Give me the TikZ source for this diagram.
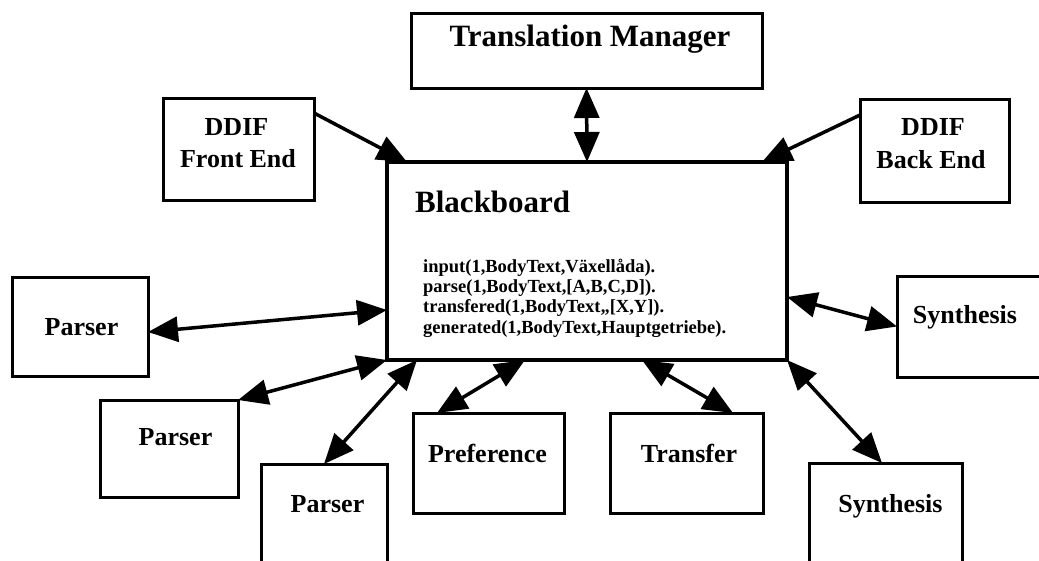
\documentclass[tikz,border=0pt]{standalone}
\usepackage{fontspec}
\setmainfont{Liberation Serif}
\usetikzlibrary{arrows.meta,calc}

\tikzset{
  >={Triangle[length=30pt,width=25pt]},
  box/.style={draw, line width=3pt, inner sep=0pt, outer sep=0pt},
  board/.style={draw, line width=4.5pt, inner sep=0pt, outer sep=0pt},
  conn/.style={line width=3.5pt},
  lbl/.style={anchor=base, inner sep=0pt, font=\fontsize{26}{30}\selectfont\bfseries},
  biglbl/.style={inner sep=0pt, font=\fontsize{31}{36}\selectfont\bfseries},
  fact/.style={anchor=base west, inner sep=0pt, font=\fontsize{18.5}{20}\selectfont\bfseries},
}

\begin{document}
\begin{tikzpicture}[x=1pt,y=-1pt]
\useasboundingbox (0,0) rectangle (1039,560);
\clip (0,0) rectangle (1039,560);
\fill[white] (0,0) rectangle (1039,560);

% central blackboard
\node[board, minimum width=400pt, minimum height=198pt] (bb) at (587,261) {};
\node[biglbl, anchor=base west] at (415,212) {Blackboard};
\foreach \txt/\yy in {{input(1,BodyText,Växellåda).}/272,
                      {parse(1,BodyText,[A,B,C,D]).}/292.3,
                      {transfered(1,BodyText,,[X,Y]).}/312.6,
                      {generated(1,BodyText,Hauptgetriebe).}/333}
  \node[fact] at (423,\yy) {\txt};

% knowledge sources around the blackboard
\node[box, minimum width=351pt, minimum height=75pt]  (tm)   at (586.5,50.5) {};
\node[biglbl, anchor=base] at (590,46) {Translation Manager};

\node[box, minimum width=151pt, minimum height=102pt] (fe)   at (238.5,149) {};
\node[lbl] at (236.5,135) {DDIF};
\node[lbl] at (238,167) {Front End};

\node[box, minimum width=149pt, minimum height=103pt] (be)   at (934.5,150.5) {};
\node[lbl] at (933,135) {DDIF};
\node[lbl] at (931,168) {Back End};

\node[box, minimum width=136pt, minimum height=99pt]  (p1)   at (80,326.5) {};
\node[lbl] at (81.5,335) {Parser};

\node[box, minimum width=138pt, minimum height=97pt]  (p2)   at (169,448.5) {};
\node[lbl] at (175.5,445) {Parser};

\node[box, minimum width=126pt, minimum height=111pt] (p3)   at (324,519.5) {};
\node[lbl] at (327.5,512) {Parser};

\node[box, minimum width=151pt, minimum height=100pt] (pref) at (488.5,463) {};
\node[lbl] at (487.5,462) {Preference};

\node[box, minimum width=153pt, minimum height=100pt] (tr)   at (686.5,463) {};
\node[lbl] at (689,462) {Transfer};

\node[box, minimum width=158pt, minimum height=101pt] (s1)   at (976,326.5) {};
\node[lbl] at (965,323) {Synthesis};

\node[box, minimum width=153pt, minimum height=112pt] (s2)   at (885.5,519) {};
\node[lbl] at (890.5,512) {Synthesis};

% connectors
\draw[conn, <->] (tm.south) -- (bb.north);
\draw[conn, ->] ($(fe.north east)+(0,15)$) -- ($(bb.north west)+(20,0)$);
\draw[conn, ->] ($(be.north west)+(0,16)$) -- ($(bb.north east)+(-25,0)$);
\draw[conn, <->] ($(p1.east)+(0,5.5)$) -- ($(bb.west)+(0,49)$);
\draw[conn, <->] (p2.north east) -- (bb.south west);
\draw[conn, <->] (p3.north) -- ($(bb.south west)+(30,0)$);
\draw[conn, <->] ($(pref.north west)+(24,0)$) -- ($(bb.south west)+(138,0)$);
\draw[conn, <->] ($(bb.south west)+(255,0)$) -- ($(tr.north east)+(-30,0)$);
\draw[conn, <->] ($(bb.east)+(0,36)$) -- (s1.west);
\draw[conn, <->] (bb.south east) -- ($(s2.north west)+(73,0)$);
\end{tikzpicture}
\end{document}
